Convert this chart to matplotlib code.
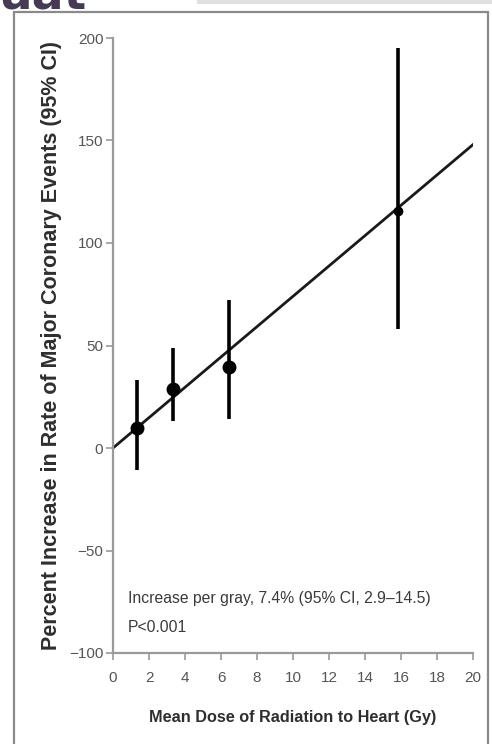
import matplotlib
matplotlib.use("Agg")
import matplotlib.pyplot as plt
from matplotlib.patches import Rectangle
import numpy as np

# Data
dose = [1.35, 3.35, 6.45, 15.85]
increase = [10, 29, 39.5, 115.5]
ci_low = [-10.5, 13, 14, 58]
ci_high = [33, 49, 72, 195]
slope = 7.4  # percent per gray
fit_x = [0, 20]
xticks = list(range(0, 21, 2))
yticks = [-100, -50, 0, 50, 100, 150, 200]

FAM = ['Liberation Sans', 'DejaVu Sans']
plt.rcParams['font.family'] = FAM

fig = plt.figure(figsize=(4.92, 7.44), dpi=100)

# slide decorations
fig.patches.append(Rectangle((14/492, -0.01), (488-14)/492, (744-12)/744 + 0.01,
                             transform=fig.transFigure, fill=False,
                             edgecolor='#8a8a8a', linewidth=1.6, zorder=0))
fig.patches.append(Rectangle((197/492, 1-4/744), (492-197)/492, 4/744,
                             transform=fig.transFigure, facecolor='#e2dfe0',
                             edgecolor='none', zorder=0))
fig.text(-2/492, 1-10/744, 'uat', fontsize=34, fontweight='bold', color='#453b55',
         ha='left', va='baseline', family=['DejaVu Sans'])

ax = fig.add_axes([113/492, 1-653/744, (473-113)/492, (653-38)/744])

ax.plot(fit_x, [slope*v for v in fit_x], color='#1a1a1a', lw=2.0, zorder=2)
yerr = [np.array(increase) - np.array(ci_low), np.array(ci_high) - np.array(increase)]
sizes = [9, 9, 9, 6]
for i in range(len(dose)):
    ax.errorbar([dose[i]], [increase[i]],
                yerr=[[yerr[0][i]], [yerr[1][i]]],
                fmt='o', color='black', ms=sizes[i], elinewidth=2.6, capsize=0, zorder=3)

ax.set_xlim(0, 20)
ax.set_ylim(-100, 200)
ax.set_xticks(xticks)
ax.set_yticks(yticks)
ax.set_xticklabels([str(t) for t in xticks])
ax.set_yticklabels([str(t) if t >= 0 else '\u2212' + str(-t) for t in yticks])
for s in ['top', 'right']:
    ax.spines[s].set_visible(False)
for s in ['left', 'bottom']:
    ax.spines[s].set_color('#9a9a9a')
    ax.spines[s].set_linewidth(1.6)
ax.tick_params(axis='both', direction='out', length=5, width=1.2, color='#9a9a9a',
               labelsize=11, labelcolor='#555555')
ax.tick_params(axis='x', pad=8)
ax.tick_params(axis='y', pad=2)

ax.set_xlabel('Mean Dose of Radiation to Heart (Gy)', fontsize=11.7, fontweight='bold',
              color='#2e2e2e', labelpad=18)
ax.set_ylabel('Percent Increase in Rate of Major Coronary Events (95% CI)', fontsize=15.5,
              fontweight='bold', color='#2e2e2e', labelpad=5)

ax.text(0.83, -73.5, 'Increase per gray, 7.4% (95% CI, 2.9\u201314.5)', fontsize=11.3,
        color='#3a3a3a', ha='left', va='center')
ax.text(0.83, -87.5, 'P<0.001', fontsize=11.3, color='#3a3a3a', ha='left', va='center')

fig.savefig('out.png', dpi=100)
